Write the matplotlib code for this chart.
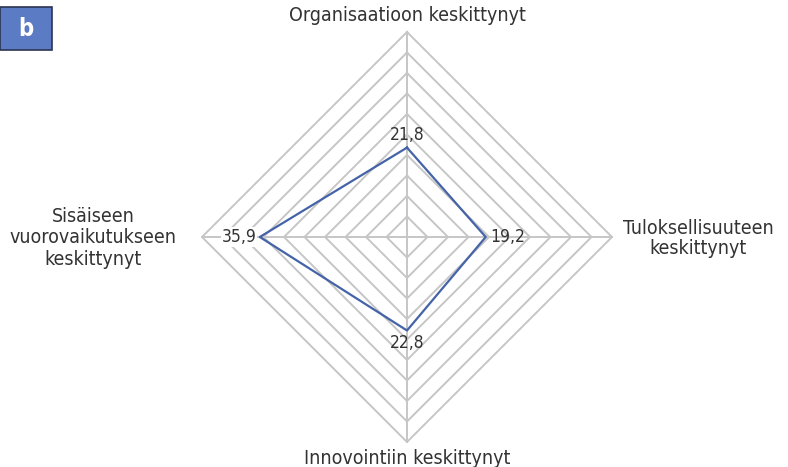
import numpy as np
import matplotlib.pyplot as plt
from matplotlib import font_manager

# data
categories = ['Organisaatioon keskittynyt', 'Tuloksellisuuteen\nkeskittynyt',
              'Innovointiin keskittynyt', 'Sisäiseen\nvuorovaikutukseen\nkeskittynyt']
values = [21.8, 19.2, 22.8, 35.9]
value_labels = ['21,8', '19,2', '22,8', '35,9']
max_val = 50
step = 5

names = {f.name for f in font_manager.fontManager.ttflist}
if 'DejaVu Sans Condensed' in names:
    fam = ['DejaVu Sans Condensed', 'DejaVu Sans']
else:
    fam = ['DejaVu Sans']
plt.rcParams['font.family'] = fam
plt.rcParams['font.stretch'] = 'condensed'

# axis directions: top, right, bottom, left
angles = np.array([90, 0, -90, 180]) * np.pi / 180
dx = np.cos(angles)
dy = np.sin(angles)

fig = plt.figure(figsize=(7.88, 4.67), dpi=100)
ax = fig.add_axes([0, 0, 1, 1])
scale = 4.1  # px per unit
ax.set_xlim(-407 / scale, (788 - 407) / scale)
ax.set_ylim(-(467 - 237) / scale, 237 / scale)
ax.axis('off')

grid_col = '#c6c6c6'
for r in np.arange(step, max_val + step, step):
    gx = np.append(dx * r, dx[0] * r)
    gy = np.append(dy * r, dy[0] * r)
    ax.plot(gx, gy, color=grid_col, lw=1.4, zorder=1)
for a in range(4):
    ax.plot([0, dx[a] * max_val], [0, dy[a] * max_val], color=grid_col, lw=1.4, zorder=1)

px = np.append(dx * values, dx[0] * values[0])
py = np.append(dy * values, dy[0] * values[0])
ax.plot(px, py, color='#4563a8', lw=1.6, zorder=3)

txt = '#333333'
fs = 12.5
cfs = 14
# value labels
ax.text(0, values[0] + 1, value_labels[0], ha='center', va='bottom', fontsize=fs, color=txt)
ax.text(values[1] + 1.2, 0, value_labels[1], ha='left', va='center', fontsize=fs, color=txt)
ax.text(0, -values[2] - 0.8, value_labels[2], ha='center', va='top', fontsize=fs, color=txt)
ax.text(-values[3] - 0.8, 0, value_labels[3], ha='right', va='center', fontsize=fs, color=txt,
        bbox=dict(facecolor='white', edgecolor='none', pad=0.5), zorder=2)

# category labels
ax.text(0, max_val + 1.8, categories[0], ha='center', va='bottom', fontsize=cfs, color=txt)
ax.text(max_val + 21, -0.4, categories[1], ha='center', va='center', fontsize=cfs, color=txt,
        linespacing=1.1)
ax.text(0, -max_val - 1.8, categories[2], ha='center', va='top', fontsize=cfs, color=txt)
ax.text(-max_val - 26.5, -0.2, categories[3], ha='center', va='center', fontsize=cfs,
        color=txt, linespacing=1.15)

# panel badge
fig.patches.append(plt.Rectangle((0, 1 - 50 / 467), 52 / 788, 43 / 467, transform=fig.transFigure,
                                 facecolor='#5b7bc4', edgecolor='#2b3550', lw=1.2))
fig.text(26 / 788, 1 - 29 / 467, 'b', ha='center', va='center', fontsize=17, color='white',
         fontweight='bold', family='DejaVu Sans')

fig.savefig('out.png', dpi=100)
